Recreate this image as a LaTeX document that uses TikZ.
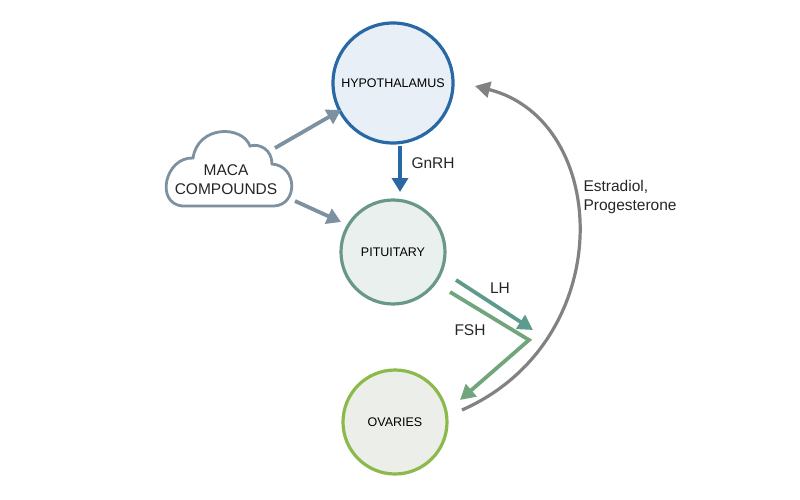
\documentclass[tikz,border=0pt]{standalone}
\usepackage{fontspec}
\setmainfont{Liberation Sans}
\usetikzlibrary{arrows.meta}
\definecolor{hypb}{RGB}{40,105,165}
\definecolor{hypf}{RGB}{233,239,246}
\definecolor{pitb}{RGB}{105,152,135}
\definecolor{pitf}{RGB}{233,240,237}
\definecolor{ovb}{RGB}{140,185,75}
\definecolor{ovf}{RGB}{236,238,234}
\definecolor{arrg}{RGB}{125,145,160}
\definecolor{arcg}{RGB}{130,130,130}
\definecolor{lhc}{RGB}{95,155,140}
\definecolor{fshc}{RGB}{115,165,125}
\begin{document}
\begin{tikzpicture}[x=1pt,y=-1pt,
  organ/.style={circle,line width=3.2pt,minimum size=#1,inner sep=0pt,font=\fontsize{12.5}{15}\selectfont,text=black},
  lbl/.style={font=\fontsize{15.5}{19}\selectfont,text=black!85},
  garrow/.style={draw=arrg,line width=3.8pt,-{Triangle[length=14pt,width=16pt]}}]
\useasboundingbox (0,0) rectangle (800,500);
\node[organ=120pt,draw=hypb,fill=hypf] (hyp) at (393,83) {HYPOTHALAMUS};
\node[organ=104pt,draw=pitb,fill=pitf] (pit) at (393,252) {PITUITARY};
\node[organ=104pt,draw=ovb,fill=ovf] (ov) at (395,422) {OVARIES};
% cloud
\draw[draw=arrg,line width=2.8pt,fill=white] (182,206) -- (274,206)
  .. controls (298,205) and (298,166) .. (272,164)
  .. controls (272,150) and (260,143) .. (250,146)
  .. controls (242,125) and (198,125) .. (193,158)
  .. controls (165,157) and (155,203) .. (182,206) -- cycle;
\node[lbl,align=center] (maca) at (226,180) {MACA\\COMPOUNDS};
\coordinate (c1) at (275,148);
\coordinate (c2) at (295,201);
\draw[garrow] (c1) -- (341,110);
\draw[garrow] (c2) -- (341,222);
% GnRH
\draw[draw=hypb,line width=3.8pt,-{Triangle[length=14pt,width=16pt]}] (400,146) -- (400,192);
\node[lbl,anchor=west] (gn) at (408,163) {GnRH};
% LH
\coordinate (lh1) at (456,280);
\coordinate (lh2) at (533,330);
\draw[draw=lhc,line width=3.8pt,-{Triangle[length=15pt,width=16pt]}] (lh1) -- (lh2);
\node[lbl] (lht) at (500,288) {LH};
% FSH
\coordinate (f1) at (450,292);
\coordinate (f2) at (529,340);
\coordinate (f3) at (460,400);
\draw[draw=fshc,line width=3.8pt,-{Triangle[length=15pt,width=16pt]}] (f1) -- (f2) -- (f3);
\node[lbl] (fsht) at (470,330) {FSH};
% feedback arc
\coordinate (a1) at (462,410);
\coordinate (a2) at (475,86);
\draw[draw=arcg,line width=3.2pt,-{Triangle[length=15pt,width=16pt]}] (a1) .. controls (620,340) and (610,120) .. (a2);
\node[lbl,align=left,anchor=west] (est) at (580,197) {Estradiol,\\Progesterone};
\end{tikzpicture}
\end{document}
